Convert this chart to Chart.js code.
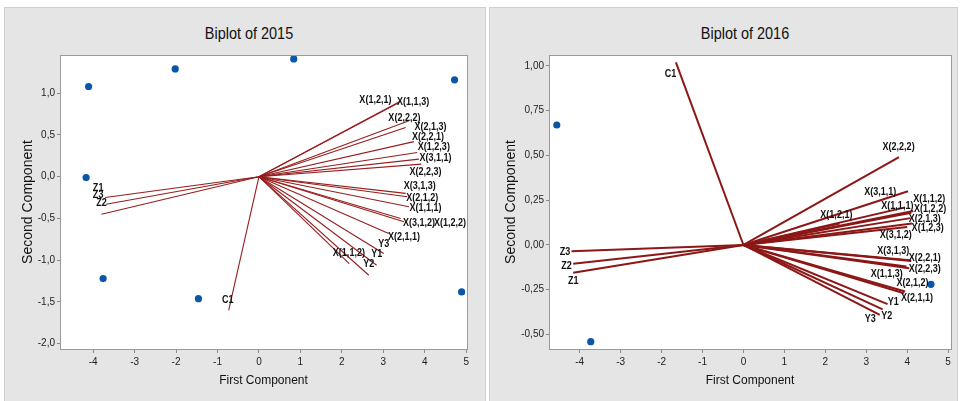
<!DOCTYPE html>
<html>
<head>
<meta charset="utf-8">
<script src="https://cdn.jsdelivr.net/npm/chart.js@4"></script>
<style>
body { margin:0; background:#fff; width:962px; height:401px; overflow:hidden; position:relative; font-family:'Liberation Sans', Arial, sans-serif; }
.panel { position:absolute; top:7px; height:400px; background:#e5e5e5; border:1px solid #cfcfcf; box-sizing:border-box; }
.title { position:absolute; font-size:17px; line-height:20px; color:#111; text-align:center; width:200px; top:24px; transform:scaleX(0.85); }
.wrap { position:absolute; top:8px; height:393px; }
</style>
</head>
<body>
<div class="panel" style="left:4px;width:482px"></div>
<div class="panel" style="left:489px;width:469px"></div>
<div class="title" style="left:149px">Biplot of 2015</div>
<div class="title" style="left:645px">Biplot of 2016</div>
<div class="wrap" style="left:5px;width:479px"><canvas id="c2015"></canvas></div>
<div class="wrap" style="left:490px;width:467px"><canvas id="c2016"></canvas></div>
<script>
const xTicks = [-4, -3, -2, -1, 0, 1, 2, 3, 4, 5];
const yTicks2015 = [-2, -1.5, -1, -0.5, 0, 0.5, 1];
const yTicks2016 = [-0.5, -0.25, 0, 0.25, 0.5, 0.75, 1];

// observation scores
const scoreX2015 = [-4.11, -2.02, 0.84, 4.72, -4.17, -3.76, -1.46, 4.89];
const scoreY2015 = [1.08, 1.29, 1.41, 1.16, -0.01, -1.22, -1.46, -1.38];
const scoreX2016 = [-4.56, -3.73, 4.58];
const scoreY2016 = [0.67, -0.54, -0.22];

// loading vectors 2015
const vectorNames2015 = ['X(1,2,1)', 'X(1,1,3)', 'X(2,2,2)', 'X(2,1,3)', 'X(2,2,1)', 'X(1,2,3)', 'X(3,1,1)', 'X(2,2,3)', 'X(3,1,3)', 'X(2,1,2)', 'X(1,1,1)', 'X(3,1,2)', 'X(1,2,2)', 'X(2,1,1)', 'Y3', 'Y1', 'Y2', 'X(1,1,2)', 'Z1', 'Z3', 'Z2', 'C1'];
const vectorX2015 = [3.35, 3.40, 3.62, 3.54, 3.74, 3.82, 3.86, 3.92, 3.54, 3.58, 3.62, 3.42, 3.50, 3.13, 3.01, 2.84, 2.65, 2.18, -3.71, -3.69, -3.80, -0.73];
const vectorY2015 = [0.88, 0.90, 0.67, 0.59, 0.42, 0.29, 0.21, 0.15, -0.20, -0.24, -0.36, -0.50, -0.54, -0.68, -0.92, -1.06, -1.18, -1.04, -0.25, -0.33, -0.45, -1.60];
const labelX2015 = [2.81, 3.72, 3.51, 4.14, 4.08, 4.22, 4.26, 4.02, 3.88, 3.94, 4.02, 3.86, 4.61, 3.50, 3.01, 2.84, 2.65, 2.17, -3.88, -3.88, -3.80, -0.75];
const labelY2015 = [0.92, 0.89, 0.70, 0.60, 0.48, 0.35, 0.23, 0.06, -0.11, -0.25, -0.37, -0.56, -0.55, -0.72, -0.80, -0.93, -1.04, -0.91, -0.13, -0.22, -0.31, -1.48];

// loading vectors 2016
const vectorNames2016 = ['C1', 'Z3', 'Z2', 'Z1', 'X(2,2,2)', 'X(3,1,1)', 'X(1,2,1)', 'X(1,1,1)', 'X(1,1,2)', 'X(1,2,2)', 'X(2,1,3)', 'X(1,2,3)', 'X(3,1,2)', 'X(3,1,3)', 'X(2,2,1)', 'X(2,2,3)', 'X(1,1,3)', 'X(2,1,2)', 'X(2,1,1)', 'Y1', 'Y2', 'Y3'];
const vectorX2016 = [-1.65, -4.20, -4.16, -4.16, 3.80, 4.02, 2.35, 3.95, 4.15, 4.10, 4.08, 4.12, 4.00, 4.07, 4.10, 4.05, 3.98, 3.95, 3.92, 3.52, 3.40, 3.33];
const vectorY2016 = [1.02, -0.035, -0.105, -0.155, 0.49, 0.30, 0.12, 0.21, 0.19, 0.18, 0.15, 0.12, 0.10, -0.085, -0.09, -0.13, -0.12, -0.26, -0.27, -0.33, -0.36, -0.39];
const labelX2016 = [-1.78, -4.36, -4.32, -4.16, 3.79, 3.34, 2.27, 3.76, 4.54, 4.56, 4.43, 4.50, 3.72, 3.66, 4.43, 4.43, 3.50, 4.13, 4.24, 3.66, 3.50, 3.10];
const labelY2016 = [0.955, -0.04, -0.115, -0.20, 0.55, 0.294, 0.17, 0.218, 0.255, 0.20, 0.145, 0.097, 0.056, -0.035, -0.075, -0.136, -0.164, -0.214, -0.298, -0.317, -0.397, -0.415];

const sans = "'Liberation Sans', Arial, sans-serif";

const framePlugin = {
    id: 'frame',
    beforeDraw(chart) {
        const a = chart.chartArea, ctx = chart.ctx;
        ctx.save();
        ctx.fillStyle = '#ffffff';
        ctx.fillRect(a.left, a.top, a.right - a.left, a.bottom - a.top);
        ctx.restore();
    },
    afterDraw(chart) {
        const a = chart.chartArea, ctx = chart.ctx;
        ctx.save();
        ctx.strokeStyle = '#9a9a9a';
        ctx.lineWidth = 1;
        ctx.strokeRect(Math.round(a.left) + 0.5, Math.round(a.top) + 0.5, Math.round(a.right - a.left), Math.round(a.bottom - a.top));
        ctx.restore();
    }
};

// vector names, squeezed a bit to look like the narrow original font
const labelPlugin = {
    id: 'vectorLabels',
    afterDatasetsDraw(chart, args, opts) {
        const ctx = chart.ctx, xs = chart.scales.x, ys = chart.scales.y;
        ctx.save();
        ctx.font = 'bold 11px ' + sans;
        ctx.fillStyle = '#111';
        ctx.textAlign = 'center';
        ctx.textBaseline = 'middle';
        opts.names.forEach((n, i) => {
            ctx.save();
            ctx.translate(xs.getPixelForValue(opts.xs[i]), ys.getPixelForValue(opts.ys[i]));
            ctx.scale(0.82, 1);
            ctx.fillText(n, 0, 0);
            ctx.restore();
        });
        ctx.restore();
    }
};

function makeBiplot(id, p) {
    const datasets = [{
        data: p.sx.map((x, i) => ({ x: x, y: p.sy[i] })),
        backgroundColor: '#0a56a8',
        borderWidth: 0,
        pointRadius: 3.6,
        order: 0
    }];
    p.names.forEach((n, i) => {
        datasets.push({
            data: [{ x: 0, y: 0 }, { x: p.vx[i], y: p.vy[i] }],
            showLine: true,
            borderColor: p.lineColor,
            borderWidth: p.lineWidth,
            pointRadius: 0,
            order: 1
        });
    });

    return new Chart(document.getElementById(id), {
        type: 'scatter',
        data: { datasets: datasets },
        options: {
            responsive: true,
            maintainAspectRatio: false,
            animation: false,
            layout: { padding: { left: 0, right: p.padRight, top: 47, bottom: 0 } },
            plugins: {
                legend: { display: false },
                tooltip: { enabled: false },
                vectorLabels: { names: p.names, xs: p.lx, ys: p.ly }
            },
            scales: {
                x: {
                    type: 'linear',
                    min: p.xMin, max: p.xMax,
                    afterBuildTicks: s => { s.ticks = xTicks.map(v => ({ value: v })); },
                    afterFit: s => { s.height = 52; },
                    ticks: { font: { family: sans, size: 10 }, color: '#222', padding: 3, maxRotation: 0, callback: v => String(v) },
                    grid: { drawOnChartArea: false, tickLength: 4, color: '#8a8a8a' },
                    border: { display: false },
                    title: { display: true, text: 'First Component', color: '#111', font: { family: sans, size: 12, lineHeight: 1.2 }, padding: { top: 0, bottom: 13 } }
                },
                y: {
                    type: 'linear',
                    min: p.yMin, max: p.yMax,
                    afterBuildTicks: s => { s.ticks = p.yTicks.map(v => ({ value: v })); },
                    afterFit: s => { s.width = p.yWidth; },
                    ticks: { font: { family: sans, size: 10 }, color: '#222', padding: 2, callback: v => v.toFixed(p.dec).replace('.', ',') },
                    grid: { drawOnChartArea: false, tickLength: 3, color: '#8a8a8a' },
                    border: { display: false },
                    title: { display: true, text: 'Second Component', color: '#111', font: { family: sans, size: 14, lineHeight: 1.2 }, padding: { top: p.yTitlePad, bottom: 0 } }
                }
            }
        },
        plugins: [framePlugin, labelPlugin]
    });
}

makeBiplot('c2015', {
    sx: scoreX2015, sy: scoreY2015,
    names: vectorNames2015, vx: vectorX2015, vy: vectorY2015, lx: labelX2015, ly: labelY2015,
    xMin: -4.80, xMax: 5.02, yMin: -2.063, yMax: 1.457, yTicks: yTicks2015, dec: 1,
    yWidth: 55, padRight: 17, yTitlePad: 15,
    lineColor: '#961e1e', lineWidth: 1.1
});

makeBiplot('c2016', {
    sx: scoreX2016, sy: scoreY2016,
    names: vectorNames2016, vx: vectorX2016, vy: vectorY2016, lx: labelX2016, ly: labelY2016,
    xMin: -4.75, xMax: 5.07, yMin: -0.581, yMax: 1.061, yTicks: yTicks2016, dec: 2,
    yWidth: 59, padRight: 6, yTitlePad: 13,
    lineColor: '#8c1717', lineWidth: 2
});
</script>
</body>
</html>
